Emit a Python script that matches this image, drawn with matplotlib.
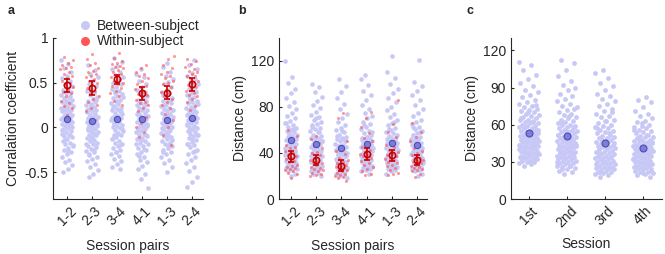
import numpy as np
import matplotlib
matplotlib.use('Agg')
import matplotlib.pyplot as plt
from matplotlib.lines import Line2D
from matplotlib.ticker import FormatStrFormatter

plt.rcParams['font.family'] = ['Liberation Sans', 'DejaVu Sans']
plt.rcParams['font.size'] = 10
plt.rcParams['text.color'] = '#262626'
plt.rcParams['axes.labelcolor'] = '#262626'
plt.rcParams['xtick.color'] = '#262626'
plt.rcParams['ytick.color'] = '#262626'

# ---- panel a: correlation coefficient ----
pairs = ['1-2', '2-3', '3-4', '4-1', '1-3', '2-4']

corr_between = [
    [0.75, 0.71, 0.66, 0.62, 0.58, 0.55, 0.52, 0.49, 0.46, 0.44, 0.42, 0.40, 0.38, 0.36, 0.34, 0.33, 0.31, 0.30,
     0.28, 0.27, 0.25, 0.24, 0.23, 0.21, 0.20, 0.19, 0.18, 0.16, 0.15, 0.14, 0.13, 0.12, 0.11, 0.10, 0.09, 0.08,
     0.07, 0.06, 0.05, 0.04, 0.03, 0.02, 0.00, -0.01, -0.02, -0.04, -0.05, -0.07, -0.08, -0.10, -0.11, -0.13,
     -0.15, -0.17, -0.19, -0.21, -0.23, -0.25, -0.28, -0.30, -0.33, -0.36, -0.39, -0.42, -0.46, -0.50,
     0.35, 0.29, 0.22, 0.17, 0.12, 0.06, 0.01, -0.03, -0.09, -0.14, -0.20, -0.26],
    [0.70, 0.64, 0.60, 0.56, 0.52, 0.49, 0.46, 0.43, 0.41, 0.38, 0.36, 0.34, 0.32, 0.30, 0.28, 0.26, 0.25, 0.23,
     0.21, 0.20, 0.18, 0.17, 0.15, 0.14, 0.12, 0.11, 0.10, 0.08, 0.07, 0.06, 0.05, 0.03, 0.02, 0.01, -0.01, -0.02,
     -0.04, -0.05, -0.06, -0.08, -0.09, -0.11, -0.12, -0.14, -0.15, -0.17, -0.19, -0.21, -0.22, -0.24, -0.26,
     -0.28, -0.30, -0.33, -0.35, -0.38, -0.41, -0.44, -0.48, -0.52, -0.55,
     0.31, 0.24, 0.19, 0.13, 0.09, 0.04, 0.00, -0.03, -0.07, -0.13, -0.18, -0.25, -0.31],
    [0.78, 0.73, 0.69, 0.65, 0.62, 0.59, 0.56, 0.53, 0.50, 0.48, 0.45, 0.43, 0.41, 0.39, 0.37, 0.35, 0.33, 0.31,
     0.29, 0.27, 0.26, 0.24, 0.22, 0.21, 0.19, 0.18, 0.16, 0.15, 0.13, 0.12, 0.10, 0.09, 0.08, 0.06, 0.05, 0.03,
     0.02, 0.00, -0.01, -0.03, -0.04, -0.06, -0.08, -0.09, -0.11, -0.13, -0.15, -0.17, -0.19, -0.21, -0.23,
     -0.25, -0.27, -0.30, -0.32, -0.35, -0.38, -0.41, -0.44, -0.47,
     0.40, 0.34, 0.28, 0.23, 0.17, 0.14, 0.11, 0.07, 0.04, -0.02, -0.07, -0.12, -0.20, -0.28],
    [0.65, 0.60, 0.56, 0.52, 0.48, 0.45, 0.42, 0.40, 0.37, 0.35, 0.33, 0.31, 0.29, 0.27, 0.25, 0.24, 0.22, 0.20,
     0.19, 0.17, 0.16, 0.14, 0.13, 0.11, 0.10, 0.09, 0.07, 0.06, 0.05, 0.03, 0.02, 0.01, -0.01, -0.02, -0.04,
     -0.05, -0.07, -0.08, -0.10, -0.12, -0.13, -0.15, -0.17, -0.19, -0.21, -0.23, -0.25, -0.28, -0.30, -0.33,
     -0.36, -0.39, -0.43, -0.47, -0.52, -0.58, -0.68,
     0.38, 0.30, 0.26, 0.21, 0.15, 0.12, 0.08, 0.04, 0.00, -0.03, -0.09, -0.14, -0.18, -0.24, -0.32],
    [0.72, 0.67, 0.62, 0.58, 0.54, 0.51, 0.48, 0.45, 0.42, 0.40, 0.38, 0.35, 0.33, 0.31, 0.29, 0.27, 0.26, 0.24,
     0.22, 0.21, 0.19, 0.18, 0.16, 0.15, 0.13, 0.12, 0.11, 0.09, 0.08, 0.07, 0.05, 0.04, 0.03, 0.01, 0.00, -0.02,
     -0.03, -0.05, -0.06, -0.08, -0.10, -0.11, -0.13, -0.15, -0.17, -0.19, -0.21, -0.23, -0.25, -0.28, -0.30,
     -0.33, -0.36, -0.40, -0.44, -0.50,
     0.36, 0.30, 0.25, 0.20, 0.14, 0.10, 0.06, 0.02, -0.01, -0.04, -0.09, -0.14, -0.20, -0.27],
    [0.75, 0.70, 0.65, 0.61, 0.57, 0.54, 0.51, 0.48, 0.45, 0.43, 0.40, 0.38, 0.36, 0.34, 0.32, 0.30, 0.28, 0.27,
     0.25, 0.23, 0.22, 0.20, 0.19, 0.17, 0.16, 0.14, 0.13, 0.12, 0.10, 0.09, 0.08, 0.06, 0.05, 0.04, 0.02, 0.01,
     -0.01, -0.02, -0.04, -0.05, -0.07, -0.09, -0.10, -0.12, -0.14, -0.16, -0.18, -0.20, -0.22, -0.25, -0.27,
     -0.30, -0.33, -0.36, -0.40, -0.44, -0.49, -0.55, -0.61, -0.67,
     0.41, 0.33, 0.26, 0.21, 0.15, 0.11, 0.07, 0.03, 0.00, -0.03, -0.08, -0.13, -0.19, -0.26],
]
corr_within = [
    [0.79, 0.75, 0.72, 0.70, 0.68, 0.66, 0.65, 0.62, 0.60, 0.58, 0.55, 0.52, 0.50, 0.48, 0.45, 0.42, 0.40, 0.38,
     0.35, 0.30, 0.27, 0.24, 0.22, 0.14],
    [0.82, 0.77, 0.72, 0.70, 0.66, 0.63, 0.62, 0.60, 0.57, 0.56, 0.54, 0.52, 0.50, 0.47, 0.44, 0.41, 0.38, 0.35,
     0.32, 0.28, 0.25, 0.22, 0.18, 0.08],
    [0.83, 0.78, 0.74, 0.72, 0.71, 0.69, 0.68, 0.66, 0.64, 0.62, 0.60, 0.58, 0.56, 0.54, 0.52, 0.50, 0.48, 0.46,
     0.44, 0.41, 0.38, 0.35, 0.30, 0.25],
    [0.70, 0.66, 0.62, 0.60, 0.58, 0.55, 0.52, 0.49, 0.46, 0.45, 0.43, 0.40, 0.37, 0.36, 0.34, 0.31, 0.28, 0.27,
     0.25, 0.22, 0.18, 0.12, 0.05, 0.00, -0.05, -0.11],
    [0.80, 0.76, 0.70, 0.66, 0.62, 0.60, 0.58, 0.55, 0.52, 0.50, 0.48, 0.45, 0.42, 0.40, 0.38, 0.35, 0.32, 0.28,
     0.25, 0.22, 0.15, 0.08, 0.00, -0.08, -0.20],
    [0.77, 0.74, 0.71, 0.68, 0.65, 0.63, 0.62, 0.60, 0.58, 0.57, 0.55, 0.52, 0.50, 0.47, 0.45, 0.44, 0.41, 0.38,
     0.36, 0.35, 0.32, 0.28, 0.24, 0.20],
]
corr_between_mean = [0.09, 0.07, 0.09, 0.09, 0.08, 0.10]
corr_between_err = [0.012, 0.012, 0.012, 0.012, 0.012, 0.012]
corr_within_mean = [0.47, 0.44, 0.54, 0.38, 0.39, 0.48]
corr_within_err = [0.07, 0.08, 0.05, 0.07, 0.07, 0.07]

# ---- panel b: distance by session pair ----
dist_between = [
    [120, 106, 101, 96, 92, 88, 84, 81, 78, 75, 72, 70, 68, 66, 64, 63, 62, 60, 59, 58, 57, 56, 55, 54, 53, 52,
     51, 50, 49, 48, 47, 46, 45, 45, 44, 43, 42, 41, 40, 40, 39, 38, 37, 36, 35, 35, 34, 33, 32, 31, 30, 30, 29,
     28, 27, 26, 25, 24, 22, 20, 66, 61, 56, 52, 49, 46, 43, 41, 38, 36, 33, 31, 29, 27],
    [100, 97, 93, 89, 85, 82, 79, 76, 73, 71, 69, 67, 65, 63, 62, 61, 59, 58, 56, 55, 54, 53, 52, 51, 50, 49,
     48, 47, 46, 45, 44, 43, 42, 41, 40, 39, 38, 37, 36, 35, 34, 33, 32, 31, 30, 29, 28, 27, 26, 25, 24, 23, 22,
     20, 70, 64, 58, 53, 50, 47, 44, 41, 39, 37, 34, 31, 28, 25],
    [104, 98, 93, 88, 83, 78, 74, 70, 67, 64, 62, 60, 58, 56, 54, 53, 52, 51, 50, 48, 47, 46, 45, 44, 43, 42,
     41, 40, 39, 38, 37, 36, 35, 34, 33, 32, 31, 30, 29, 28, 27, 26, 25, 24, 23, 22, 21, 20, 18, 59, 55, 50, 46,
     43, 41, 39, 37, 35, 33, 31, 29, 27, 25, 23],
    [108, 104, 99, 94, 90, 86, 82, 78, 75, 72, 70, 67, 65, 63, 61, 59, 57, 56, 54, 53, 52, 51, 50, 49, 48, 47,
     46, 45, 44, 43, 42, 41, 40, 39, 38, 37, 36, 35, 34, 33, 32, 31, 30, 29, 28, 27, 26, 25, 24, 22, 64, 58, 54,
     51, 48, 46, 44, 42, 40, 38, 36, 34, 32, 30, 28],
    [124, 110, 105, 100, 96, 92, 88, 84, 80, 77, 74, 71, 69, 66, 64, 62, 60, 58, 57, 55, 54, 53, 52, 51, 50, 49,
     48, 47, 46, 45, 44, 43, 42, 41, 40, 39, 38, 37, 36, 35, 34, 33, 32, 31, 30, 29, 28, 27, 26, 25, 24, 22, 67,
     61, 56, 52, 49, 47, 45, 43, 41, 39, 37, 35, 33, 31, 29],
    [121, 102, 98, 94, 90, 86, 82, 78, 75, 72, 69, 67, 65, 63, 61, 59, 57, 56, 54, 53, 52, 51, 50, 49, 48, 47,
     46, 45, 44, 43, 42, 41, 40, 39, 38, 37, 36, 35, 34, 33, 32, 31, 30, 29, 28, 27, 26, 25, 24, 22, 20, 63, 58,
     53, 50, 47, 45, 43, 41, 39, 37, 35, 33, 31, 29, 26],
]
dist_within = [
    [60, 55, 50, 47, 45, 44, 42, 40, 38, 37, 36, 35, 33, 32, 30, 29, 28, 27, 26, 25, 24, 23, 22, 18],
    [55, 52, 49, 46, 44, 41, 40, 38, 36, 34, 33, 32, 31, 30, 28, 27, 26, 25, 24, 23, 22, 21, 20],
    [75, 70, 50, 45, 42, 39, 36, 34, 32, 31, 30, 29, 28, 27, 26, 25, 24, 23, 22, 21, 20, 19, 18, 16],
    [76, 70, 63, 57, 53, 50, 47, 45, 43, 41, 39, 38, 37, 36, 35, 33, 31, 30, 28, 26, 24, 22, 21],
    [86, 65, 58, 54, 50, 47, 45, 43, 41, 39, 38, 37, 36, 35, 34, 32, 31, 30, 29, 27, 25, 23, 22, 21],
    [66, 58, 54, 50, 47, 44, 42, 40, 38, 36, 35, 34, 33, 32, 31, 30, 29, 28, 27, 26, 25, 24, 22, 19],
]
dist_between_mean = [51, 48, 44, 48, 49, 47]
dist_between_err = [1.2, 1.2, 1.2, 1.2, 1.2, 1.2]
dist_within_mean = [37, 34, 29, 39, 38, 34]
dist_within_err = [4.5, 4.5, 5, 5, 5, 4.5]

# ---- panel c: distance by session ----
sessions = ['1st', '2nd', '3rd', '4th']
sess_dist = [
    [111, 108, 104, 100, 97, 94, 91, 88, 86, 84, 82, 80, 78, 77, 75, 74, 73, 72, 71, 70, 69, 68, 67, 66, 65, 64,
     64, 63, 62, 61, 61, 60, 59, 59, 58, 57, 57, 56, 55, 55, 54, 54, 53, 53, 52, 52, 51, 51, 50, 50, 49, 49, 48,
     48, 47, 47, 46, 46, 45, 45, 44, 44, 43, 43, 42, 42, 41, 41, 40, 40, 39, 39, 38, 38, 37, 37, 36, 36, 35, 35,
     34, 34, 33, 33, 32, 31, 31, 30, 30, 29, 28, 27, 76, 70, 65, 62, 58, 56, 53, 50, 48, 46, 44, 42, 39, 37, 35,
     33, 31],
    [112, 110, 104, 99, 95, 92, 90, 88, 85, 83, 81, 79, 77, 75, 73, 72, 70, 69, 68, 66, 65, 64, 63, 62, 61, 60,
     60, 59, 58, 57, 56, 56, 55, 54, 54, 53, 52, 52, 51, 50, 50, 49, 49, 48, 48, 47, 46, 46, 45, 45, 44, 44, 43,
     43, 42, 42, 41, 41, 40, 39, 39, 38, 38, 37, 37, 36, 35, 35, 34, 34, 33, 32, 32, 31, 31, 30, 29, 29, 28, 27,
     27, 26, 25, 24, 23, 22, 20, 74, 67, 62, 58, 55, 52, 49, 47, 44, 41, 38, 36, 33, 30, 27, 24],
    [104, 102, 98, 94, 91, 88, 85, 83, 81, 79, 77, 75, 73, 71, 69, 67, 66, 64, 63, 61, 60, 59, 58, 57, 56, 55,
     54, 53, 52, 51, 50, 49, 49, 48, 47, 46, 46, 45, 44, 44, 43, 42, 42, 41, 40, 40, 39, 38, 38, 37, 36, 36, 35,
     35, 34, 33, 33, 32, 32, 31, 30, 30, 29, 29, 28, 28, 27, 26, 26, 25, 25, 24, 24, 23, 22, 22, 21, 20, 19, 18,
     70, 63, 57, 53, 48, 45, 41, 38, 34, 31, 28, 25, 22],
    [82, 80, 78, 74, 71, 69, 67, 65, 63, 62, 60, 59, 58, 57, 56, 55, 54, 53, 52, 51, 50, 50, 49, 48, 48, 47, 46,
     46, 45, 45, 44, 44, 43, 43, 42, 42, 41, 41, 40, 40, 39, 39, 38, 38, 37, 37, 36, 36, 35, 35, 34, 34, 33, 33,
     32, 32, 31, 31, 30, 30, 29, 29, 28, 28, 27, 27, 26, 26, 25, 25, 24, 24, 23, 22, 22, 21, 20, 19, 18,
     61, 56, 52, 49, 46, 43, 40, 37, 35, 32, 29, 26, 23, 21],
]
sess_mean = [53, 51, 45, 41]

LAV = '#c8c8f6'
RED = '#ff4444'
MEAN_B_FACE = '#7d7dda'
MEAN_B_EDGE = '#4c4cb4'
DARK_RED = '#c80000'


def jitter(n, pos, width, seed=0.0):
    # deterministic spread around a category position
    frac = (np.arange(n) * 0.6180339887 + seed) % 1.0
    return pos + (frac - 0.5) * 2 * width


def style_axes(ax):
    ax.spines['top'].set_visible(False)
    ax.spines['right'].set_visible(False)
    for s in ['left', 'bottom']:
        ax.spines[s].set_color('#262626')
        ax.spines[s].set_linewidth(0.8)
    ax.tick_params(direction='in', length=2.5, width=0.8, labelsize=10)


fig = plt.figure(figsize=(6.65, 2.54), dpi=100)
ax_a = fig.add_axes([0.0797, 0.2165, 0.2256, 0.634])
ax_b = fig.add_axes([0.4195, 0.2165, 0.2226, 0.634])
ax_c = fig.add_axes([0.7684, 0.2165, 0.2271, 0.634])


def pair_panel(ax, between, within, bmean, berr, wmean, werr):
    for i in range(len(pairs)):
        pos = i + 1
        yb = np.array(between[i])
        ax.scatter(jitter(len(yb), pos, 0.24, 0.13 * i), yb, s=11, color=LAV, linewidths=0, zorder=1)
    for i in range(len(pairs)):
        pos = i + 1
        yw = np.array(within[i])
        ax.scatter(jitter(len(yw), pos, 0.27, 0.31 + 0.17 * i), yw, s=5, color=RED, alpha=0.55,
                   linewidths=0, zorder=2)
    x = np.arange(1, len(pairs) + 1)
    ax.errorbar(x, bmean, yerr=berr, fmt='o', ms=4.5, mfc=MEAN_B_FACE, mec=MEAN_B_EDGE, mew=0.8,
                ecolor=MEAN_B_EDGE, elinewidth=0.8, capsize=0, zorder=3)
    ax.errorbar(x, wmean, yerr=werr, fmt='o', ms=4.5, mfc='none', mec=DARK_RED, mew=1.2,
                ecolor=DARK_RED, elinewidth=1.2, capsize=2, capthick=1.2, zorder=4)
    ax.set_xticks(x)
    ax.set_xticklabels(pairs, rotation=45, ha='center')
    ax.set_xlabel('Session pairs', labelpad=8)
    style_axes(ax)


# panel a
pair_panel(ax_a, corr_between, corr_within, corr_between_mean, corr_between_err,
           corr_within_mean, corr_within_err)
ax_a.set_xlim(0.44, 6.44)
ax_a.set_ylim(-0.8, 1.0)
ax_a.set_yticks([-0.5, 0, 0.5, 1])
ax_a.yaxis.set_major_formatter(FormatStrFormatter('%g'))
ax_a.set_ylabel('Corralation coefficient', labelpad=3)

# panel b
pair_panel(ax_b, dist_between, dist_within, dist_between_mean, dist_between_err,
           dist_within_mean, dist_within_err)
ax_b.set_xlim(0.52, 6.4)
ax_b.set_ylim(0, 140)
ax_b.set_yticks([0, 40, 80, 120])
ax_b.set_ylabel('Distance (cm)', labelpad=3)

# panel c
for i in range(len(sessions)):
    yc = np.array(sess_dist[i])
    ax_c.scatter(jitter(len(yc), i + 1, 0.27, 0.21 * i), yc, s=12, color=LAV, linewidths=0, zorder=1)
ax_c.plot(np.arange(1, 5), sess_mean, 'o', ms=5, mfc=MEAN_B_FACE, mec=MEAN_B_EDGE, mew=0.8, zorder=3)
ax_c.set_xlim(0.53, 4.5)
ax_c.set_ylim(0, 130)
ax_c.set_yticks([0, 30, 60, 90, 120])
ax_c.set_xticks(np.arange(1, 5))
ax_c.set_xticklabels(sessions, rotation=45, ha='center')
ax_c.set_xlabel('Session', labelpad=5)
ax_c.set_ylabel('Distance (cm)', labelpad=3)
style_axes(ax_c)

# legend for panel a
handles = [Line2D([], [], ls='none', marker='o', ms=6.5, mfc=LAV, mec='none'),
           Line2D([], [], ls='none', marker='o', ms=6.5, mfc=RED, mec='none', alpha=0.9)]
fig.legend(handles, ['Between-subject', 'Within-subject'], loc='upper left',
           bbox_to_anchor=(0.12, 0.925), frameon=False, fontsize=10, handlelength=0.8,
           handletextpad=0.4, labelspacing=0.1, borderpad=0, borderaxespad=0)

# panel letters
fig.text(0.012, 0.955, 'a', fontsize=9, fontweight='bold', va='center')
fig.text(0.358, 0.955, 'b', fontsize=9, fontweight='bold', va='center')
fig.text(0.702, 0.955, 'c', fontsize=9, fontweight='bold', va='center')

fig.savefig('out.png', dpi=100)
